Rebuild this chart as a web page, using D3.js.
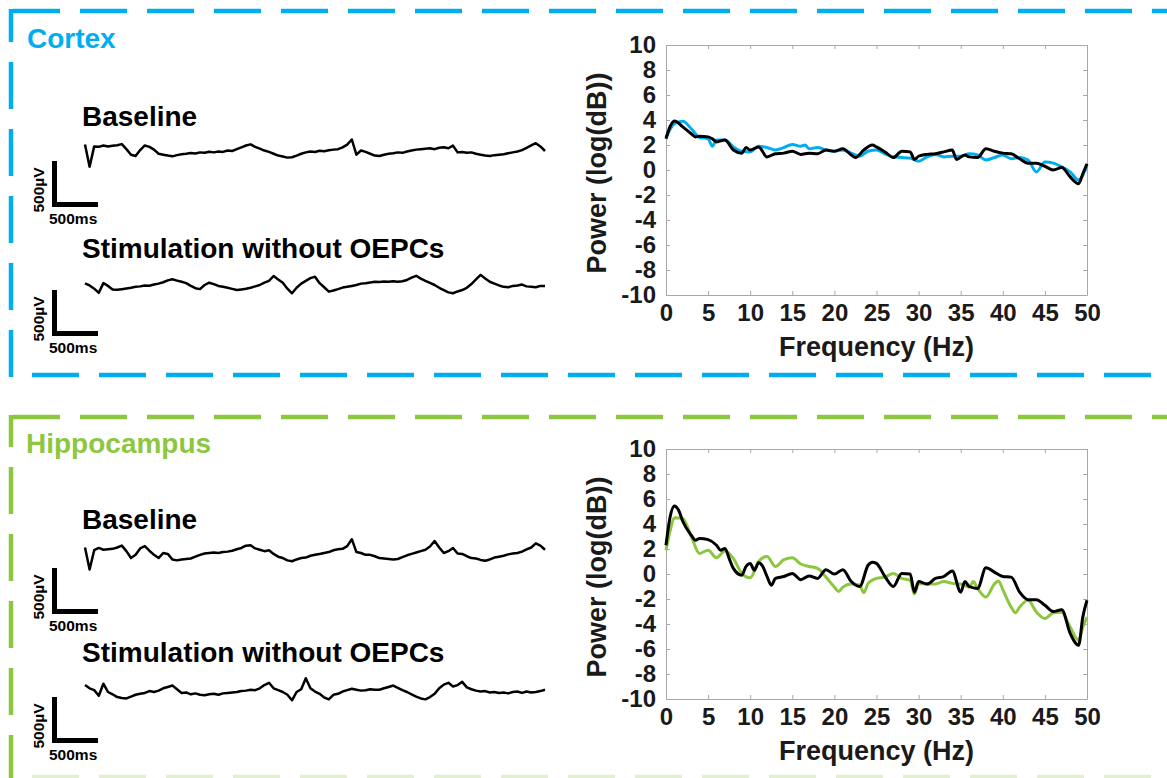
<!DOCTYPE html>
<html>
<head>
<meta charset="utf-8">
<script src="https://cdn.jsdelivr.net/npm/d3@7"></script>
<style>
  body { margin: 0; background: #fff; }
  svg { display: block; font-family: "Liberation Sans", Arial, sans-serif; }
</style>
</head>
<body>
<div id="chart"></div>
<script>
// ---- LFP traces, µV, one sample every 50 ms over 5 s ----
const traceStepMs = 50;
const cortexBaseline = [70,-170,50,45,60,50,58,62,75,20,-40,-55,10,60,45,15,-30,-40,-50,-58,
  -45,-35,-30,-22,-28,-15,-20,-8,-15,-5,-10,5,0,20,40,60,72,45,25,5,
  -10,-30,-50,-60,-72,-68,-50,-30,-15,-5,-10,2,-3,8,15,20,40,70,125,-40,
  5,-10,-30,-50,-55,-40,-30,-25,-15,-20,-5,5,15,20,25,30,20,35,40,30,
  58,-15,-10,-20,-15,-30,-40,-50,-55,-45,-40,-35,-25,-15,-5,10,35,60,85,50,0];
const cortexStim = [18,-5,-40,-85,20,-10,-50,-52,-45,-38,-30,-20,-15,-5,-8,5,15,30,50,62,
  48,35,20,-10,-35,-45,0,25,10,-10,-20,-30,-42,-55,-48,-40,-30,-15,0,25,
  45,98,60,25,-40,-90,-30,15,45,75,90,20,-25,-72,-60,-45,-28,-20,-10,0,
  15,20,28,35,33,38,35,40,36,40,55,80,100,70,45,22,0,-30,-55,-80,
  -90,-70,-55,-30,10,60,110,70,35,15,-5,-20,-25,-10,-5,5,-15,-20,-25,-10,-12];
const hippoBaseline = [60,-180,30,55,35,40,45,60,80,20,-55,-20,50,75,25,-20,-55,0,-10,-70,
  -80,-70,-65,-60,-40,-20,-5,0,5,0,10,15,25,40,55,80,85,50,35,20,
  30,-10,-40,-55,-80,-90,-70,-55,-50,-30,-20,-10,0,10,30,40,45,75,150,10,
  0,-20,-20,-35,-55,-60,-65,-70,-65,-45,-25,-10,5,20,35,70,130,60,0,20,
  55,-5,-10,-35,-55,-60,-75,-85,-70,-50,-40,-30,-15,-5,0,15,40,60,105,80,35];
const hippoStim = [75,40,20,-40,90,0,-25,-55,-65,-70,-50,-30,-20,-10,10,0,15,40,55,70,
  30,-10,-5,-25,-15,-30,-35,-25,-20,-30,-15,-10,-5,0,10,15,25,20,40,75,
  100,40,20,0,-30,-90,0,30,150,40,5,-20,-60,-80,-30,-20,5,20,35,25,
  15,20,30,25,25,40,55,70,45,20,0,-25,-50,-70,-80,-55,-20,40,80,100,
  60,75,110,50,30,15,5,10,-5,0,-10,-5,-15,0,5,-10,5,-5,0,10,25];

// ---- power spectra, log(dB) ----
const cortexBaseFreq = [0,1,2,3,4,5,5.5,6,7,8,9,10,11,12,13,14,15,16,16.5,17,18,19,20,21,22,23,24,25,26,27,28,29,30,31,32,33,34,35,36,37,38,39,40,41,42,43,44,45,46,47,48,49,50];
const cortexBasePow = [2.6,3.7,3.9,3.3,2.6,2.5,1.9,2.4,2.4,1.85,1.5,1.45,1.9,1.8,1.6,1.8,2.05,1.9,2.0,1.7,1.8,1.6,1.5,1.6,1.35,1.1,1.5,1.6,1.3,1.05,1.0,0.95,0.7,1.05,1.25,1.05,1.1,1.1,1.3,1.2,0.8,1.0,1.2,0.9,1.0,0.8,-0.15,0.65,0.55,0.25,-0.15,-0.8,0.4];
const cortexStimFreq = [0,0.5,1,2,3,3.5,4,5,5.5,6,7,8,9,9.5,10,11,12,13,14,15,16,17,18,19,20,21,22,22.5,23.5,24.5,25,26,27,28,29,29.5,30,31,32,33,34,34.5,35.5,36,37,38,39,40,41,42,43,44,45,46,47,48,49,49.5,50];
const cortexStimPow = [2.5,3.5,3.93,3.45,2.9,2.65,2.7,2.65,2.5,2.25,2.4,1.6,1.35,1.8,1.6,1.85,1.05,1.3,1.35,1.5,1.25,1.35,1.3,1.6,1.5,1.7,1.2,1.0,1.6,2.0,1.85,1.45,1.0,1.5,1.45,0.85,1.1,1.25,1.3,1.45,1.6,0.85,1.2,1.05,1.0,1.7,1.5,1.35,1.3,0.9,0.55,0.55,0.3,0.0,0.2,-0.55,-1.1,-0.3,0.5];
const hippoBaseFreq = [0,0.5,1,2,3,4,5,6,7,8,9,10,11,12,13,14,15,16,17,18,19,20,20.5,21,22,23,23.5,24,25,26,27,28,29,29.5,30,31,32,33,34,35,36,36.5,37,38,39,39.5,40,41,41.5,42,43,44,45,46,47,48,49,49.5,50];
const hippoBasePow = [1.9,3.5,4.5,4.45,3.0,1.65,1.9,1.3,1.85,1.25,0.05,-0.3,1.0,1.4,0.6,1.15,1.3,0.8,0.6,0.45,-0.25,-1.05,-1.4,-1.05,-0.8,-0.9,-1.5,-0.75,-0.35,-0.25,0.05,-0.35,-0.5,-1.6,-0.75,-0.8,-0.8,-0.6,-0.75,-0.8,-1.05,-0.6,-1.15,-1.85,-0.8,-0.55,-1.25,-2.65,-3.1,-2.65,-2.1,-3.05,-3.55,-3.1,-3.05,-4.25,-5.3,-4.25,-3.45];
const hippoStimFreq = [0,0.5,1,1.5,2,3,3.5,4,5,6,6.5,7,7.5,8,9,9.5,10,10.5,11,11.5,12,12.5,13,14,15,16,17,18,19,20,21,22,23,24,24.5,25,26,27,28,29,29.5,30,31,32,33,34,35,35.5,36,37,38,39,40,41,42,43,44,45,46,47,48,49,49.5,50];
const hippoStimPow = [2.3,4.6,5.45,5.1,4.2,3.1,2.7,2.85,2.75,2.3,1.9,2.05,1.25,0.45,-0.1,0.6,0.85,0.3,0.9,0.6,-0.2,-0.9,-0.35,-0.2,0.05,-0.45,-0.15,-0.35,0.35,0.0,0.35,-0.6,-1.0,0.7,0.95,0.85,-0.2,-1.0,0.05,0.0,-1.45,-0.6,-0.8,-0.35,-0.2,0.25,-1.45,-0.6,-1.0,-1.15,0.5,0.15,-0.2,-0.25,-1.45,-2.05,-2.05,-2.5,-3.0,-2.85,-4.75,-5.7,-3.45,-2.1];

const freqTicks = [0,5,10,15,20,25,30,35,40,45,50];
const powTicks = [-10,-8,-6,-4,-2,0,2,4,6,8,10];
const traceLabels = ["Baseline", "Stimulation without OEPCs"];
const regionNames = ["Cortex", "Hippocampus"];
const scaleBarUV = 500, scaleBarMs = 500;

const cyan = "#00aeef", green = "#8dc63f";

const svg = d3.select("#chart").append("svg")
  .attr("width", 1167).attr("height", 778);

// dashed frame pieces
function dashed(x1, y1, x2, y2, offset, color, op) {
  svg.append("line")
    .attr("x1", x1).attr("y1", y1).attr("x2", x2).attr("y2", y2)
    .attr("stroke", color).attr("stroke-width", 4.5)
    .attr("stroke-dasharray", "47 20").attr("stroke-dashoffset", offset)
    .attr("opacity", op || 1);
}

// time / amplitude scales for the traces (500 ms = 500 µV on screen)
const tx = d3.scaleLinear().domain([0, 5000]).range([85, 545]);
const pxPerUV = (tx(scaleBarMs) - tx(0)) / scaleBarUV;

function drawTrace(values, centerY) {
  const ty = d3.scaleLinear().domain([-1, 1]).range([centerY + pxPerUV, centerY - pxPerUV]);
  const line = d3.line().x((d, i) => tx(i * traceStepMs)).y(d => ty(d));
  svg.append("path").datum(values)
    .attr("d", line).attr("fill", "none")
    .attr("stroke", "#000").attr("stroke-width", 2.5).attr("stroke-linejoin", "round");
}

function drawScaleBar(top) {
  const len = tx(scaleBarMs) - tx(0);
  const x0 = 52, w = 5;
  svg.append("rect").attr("x", x0).attr("y", top).attr("width", w).attr("height", len).attr("fill", "#000");
  svg.append("rect").attr("x", x0).attr("y", top + len - w).attr("width", len).attr("height", w).attr("fill", "#000");
  svg.append("text").attr("x", x0 - 3).attr("y", top + len + 17)
    .attr("font-size", 15.5).attr("font-weight", "bold").text(scaleBarMs + "ms");
  svg.append("text")
    .attr("transform", `translate(${x0 - 8},${top + len / 2 + 6}) rotate(-90)`)
    .attr("text-anchor", "middle").attr("font-size", 15.5).attr("font-weight", "bold")
    .text(scaleBarUV + "µV");
}

function drawPsd(top, colored, black, color) {
  const left = 666, right = 1087, bottom = top + 250;
  const x = d3.scaleLinear().domain([0, 50]).range([left, right]);
  const y = d3.scaleLinear().domain([-10, 10]).range([bottom, top]);
  const g = svg.append("g");
  const axisCol = "#a8a8a8";
  const fmt = d => String(d);

  g.append("g").attr("transform", `translate(0,${bottom})`)
    .call(d3.axisBottom(x).tickValues(freqTicks).tickFormat(fmt).tickSizeInner(-4).tickSizeOuter(0).tickPadding(9));
  g.append("g").attr("transform", `translate(${left},0)`)
    .call(d3.axisLeft(y).tickValues(powTicks).tickFormat(fmt).tickSizeInner(-4).tickSizeOuter(0).tickPadding(10));
  g.append("g").attr("transform", `translate(0,${top})`)
    .call(d3.axisTop(x).tickValues(freqTicks).tickSizeInner(-4).tickSizeOuter(0).tickFormat(""));
  g.append("g").attr("transform", `translate(${right},0)`)
    .call(d3.axisRight(y).tickValues(powTicks).tickSizeInner(-4).tickSizeOuter(0).tickFormat(""));
  g.selectAll(".domain, .tick line").attr("stroke", axisCol).attr("stroke-width", 1);
  g.selectAll(".tick text").attr("font-size", 24).attr("font-weight", "bold")
    .attr("fill", "#1a1a1a").attr("font-family", "Liberation Sans, Arial, sans-serif");

  const line = d3.line().x(d => x(d[0])).y(d => y(d[1])).curve(d3.curveMonotoneX);
  [[colored, color], [black, "#000"]].forEach(([s, c]) => {
    svg.append("path").datum(d3.zip(s[0], s[1]))
      .attr("d", line).attr("fill", "none").attr("stroke", c)
      .attr("stroke-width", 3).attr("stroke-linejoin", "round");
  });

  svg.append("text").attr("x", (left + right) / 2).attr("y", bottom + 61)
    .attr("text-anchor", "middle").attr("font-size", 27).attr("font-weight", "bold")
    .attr("fill", "#1a1a1a").text("Frequency (Hz)");
  svg.append("text")
    .attr("transform", `translate(606,${(top + bottom) / 2 + 3}) rotate(-90)`)
    .attr("text-anchor", "middle").attr("font-size", 27).attr("font-weight", "bold")
    .attr("fill", "#1a1a1a").text("Power (log(dB))");
}

function label(x, y, txt, color) {
  svg.append("text").attr("x", x).attr("y", y).attr("font-size", 28).attr("font-weight", "bold")
    .attr("fill", color || "#000").text(txt);
}

// ---- Cortex panel ----
dashed(13, 11, 1167, 11, 0, cyan);
dashed(11, 9, 11, 377, 14, cyan);
dashed(32, 375, 1167, 375, 0, cyan);
label(27, 48, regionNames[0], cyan);
label(82, 126, traceLabels[0]);
label(82, 258, traceLabels[1]);
drawTrace(cortexBaseline, 151);
drawTrace(cortexStim, 285);
drawScaleBar(161);
drawScaleBar(290);
drawPsd(45, [cortexBaseFreq, cortexBasePow], [cortexStimFreq, cortexStimPow], cyan);

// ---- Hippocampus panel ----
dashed(13, 417, 1167, 417, 0, green);
dashed(11, 415, 11, 778, 15, green);
dashed(32, 777, 1167, 777, 0, green, 0.25);
label(26, 453, regionNames[1], green);
label(82, 529, traceLabels[0]);
label(82, 662, traceLabels[1]);
drawTrace(hippoBaseline, 553);
drawTrace(hippoStim, 692);
drawScaleBar(568);
drawScaleBar(697);
drawPsd(449, [hippoBaseFreq, hippoBasePow], [hippoStimFreq, hippoStimPow], green);
</script>
</body>
</html>
